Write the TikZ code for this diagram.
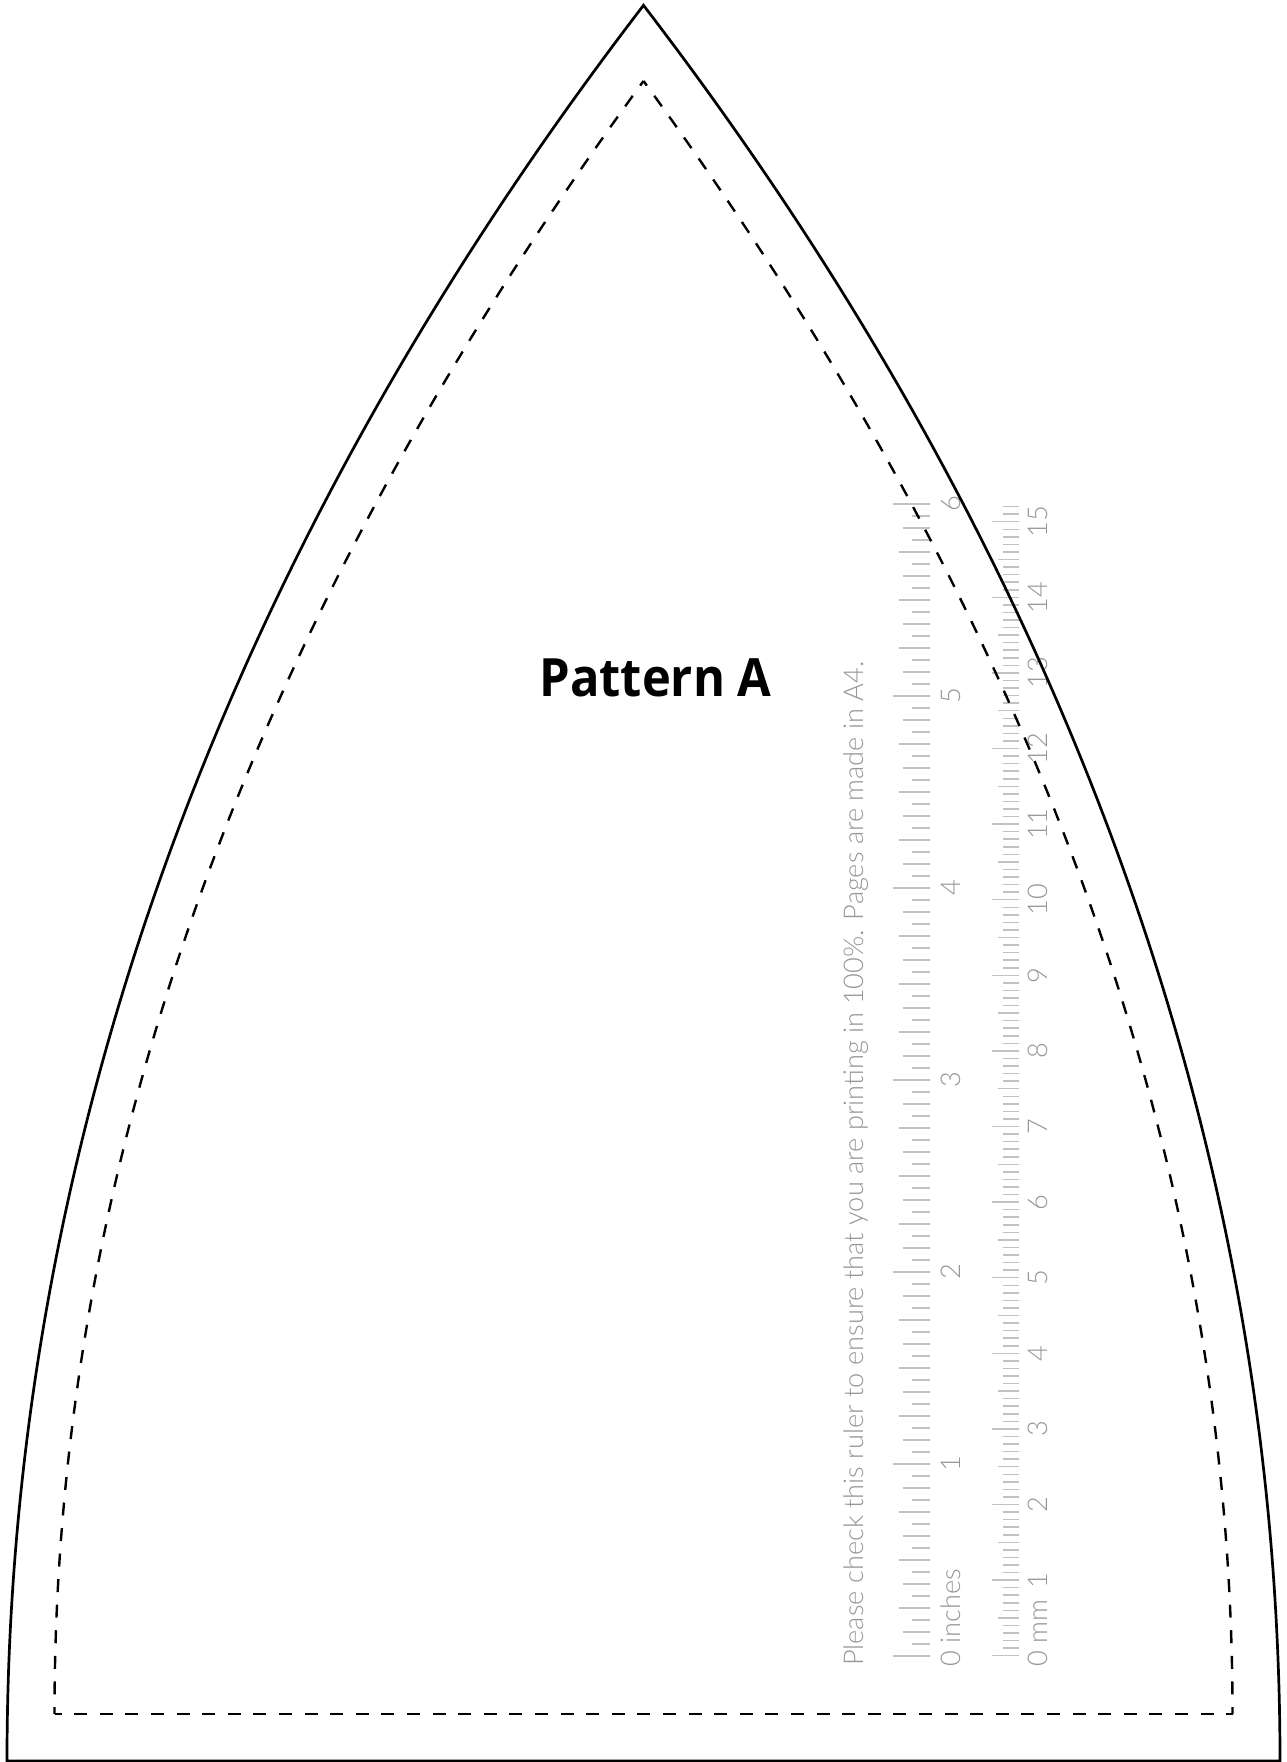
\documentclass[tikz,border=0pt]{standalone}
\usepackage{fontspec}
\newfontfamily\rulerfont{Lato Light}
\newfontfamily\titlefont{Open Sans}
\definecolor{rulergray}{HTML}{969696}
\definecolor{tickgray}{HTML}{C2C2C2}
\tikzset{
  outerline/.style={draw=black,line width=2.7pt,line join=miter},
  seam/.style={draw=black,line width=2.4pt,dash pattern=on 13pt off 12.6pt},
  tick/.style={draw=tickgray,line width=1.5pt},
  rulertext/.style={rotate=90,text=rulergray,inner sep=0pt,font=\rulerfont\fontsize{27.2}{27.2}\selectfont},
  rulernum/.style={rulertext,anchor=base},
}
\begin{document}
\begin{tikzpicture}[x=1pt,y=-1pt]
\useasboundingbox (0,0) rectangle (1287,1762);
% inch ruler
\foreach \i in {0,...,96}{
  \pgfmathsetmacro{\yy}{1656-12*\i}
  \pgfmathtruncatemacro{\aa}{mod(\i,16)}
  \pgfmathtruncatemacro{\bb}{mod(\i,4)}
  \pgfmathtruncatemacro{\cc}{mod(\i,2)}
  \pgfmathsetmacro{\xx}{\aa==0?892.7:(\bb==0?899.3:(\cc==0?902.7:911.7))}
  \draw[tick] (\xx,\yy) -- (930,\yy);
}
% mm ruler
\foreach \i in {0,...,152}{
  \pgfmathsetmacro{\yy}{1655.7-7.56*\i}
  \pgfmathtruncatemacro{\aa}{mod(\i,10)}
  \pgfmathtruncatemacro{\bb}{mod(\i,5)}
  \pgfmathsetmacro{\xx}{\aa==0?991.7:(\bb==0?998.3:1002.7)}
  \draw[tick] (\xx,\yy) -- (1019.3,\yy);
}
\node[rulertext,anchor=base west] (note) at (863,1666) {Please check this ruler to ensure that you are printing in 100\%. Pages are made in A4.};
\node[rulertext,anchor=base west] (inches) at (960,1666.7) {0 inches};
\node[rulertext,anchor=base west] (mm) at (1047,1666.7) {0 mm};
\foreach \n in {1,...,6}{
  \pgfmathsetmacro{\yy}{1656-192*\n}
  \node[rulernum] (in\n) at (960,\yy) {\n};
}
\foreach \n in {1,...,15}{
  \pgfmathsetmacro{\yy}{1655.7-75.6*\n}
  \node[rulernum] (cm\n) at (1047,\yy) {\n};
}
\node[inner sep=0pt,anchor=base,font=\titlefont\bfseries\fontsize{52.8}{52.8}\selectfont] (title) at (655.5,696) {\scalebox{0.925}[1]{Pattern A}};
% outer edge
\draw[outerline] (643.5,5.3) .. controls (187.5,600) and (7,1200) .. (7,1761)
  -- (1280,1761) .. controls (1280,1200) and (1099.5,600) .. cycle;
% seam
\draw[seam,dash phase=6pt] (54.5,1714) -- (1232.5,1714);
\draw[seam,dash phase=6pt] (54.5,1714) .. controls (54.5,1180) and (235.5,640) .. (643.5,81);
\draw[seam,dash phase=6pt] (1232.5,1714) .. controls (1232.5,1180) and (1051.5,640) .. (643.5,81);
\end{tikzpicture}
\end{document}
